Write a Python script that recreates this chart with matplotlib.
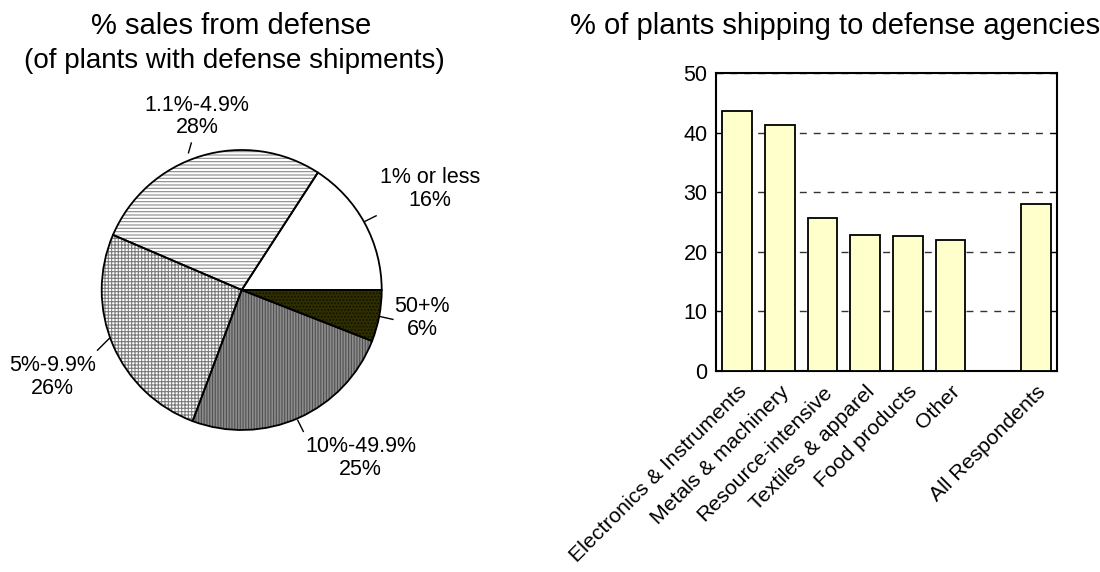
import matplotlib
matplotlib.use("Agg")
import matplotlib.pyplot as plt
import numpy as np

plt.rcParams['font.family'] = ['Liberation Sans', 'DejaVu Sans']
plt.rcParams['hatch.linewidth'] = 0.8

# pie data (counter-clockwise from 3 o'clock)
pie_labels = ['1% or less', '1.1%-4.9%', '5%-9.9%', '10%-49.9%', '50+%']
pie_values = [16, 28, 26, 25, 6]
pie_faces = ['white', 'white', 'white', '#8c8c8c', '#2e2e00']
pie_hatches = [None, '-----', '+++++', '||||||', '.....']
pie_hatch_colors = ['white', '#8a8a8a', '#7a7a7a', '#505050', '#111100']
# label centres and leader line ends (pie radius units)
label_pos = [(1.345, 0.72), (-0.32, 1.24), (-1.35, -0.62), (0.85, -1.20), (1.29, -0.20)]
leader = [((0.88, 0.49), (0.96, 0.53)), ((-0.38, 0.98), (-0.36, 1.05)),
          ((-0.94, -0.34), (-1.03, -0.43)), ((0.40, -0.93), (0.44, -1.01)),
          ((0.99, -0.19), (1.08, -0.21))]

# bar data
categories = ['Electronics & Instruments', 'Metals & machinery', 'Resource-intensive',
              'Textiles & apparel', 'Food products', 'Other', '', 'All Respondents']
bar_values = [43.7, 41.3, 25.6, 22.8, 22.6, 21.9, 0, 28.0]

fig = plt.figure(figsize=(11, 5.72), dpi=100)

# ---- pie ----
axp = fig.add_axes([101.7 / 1100, 142 / 572, 280 / 1100, 280 / 572])
total = sum(pie_values)
fracs = [v / total for v in pie_values]
wedges, _ = axp.pie(fracs, startangle=0, counterclock=True, radius=1,
                    colors=pie_faces, wedgeprops=dict(linewidth=0))
for w, h, hc in zip(wedges, pie_hatches, pie_hatch_colors):
    if h:
        w.set_hatch(h)
        w.set_edgecolor(hc)
        w.set_linewidth(0)
# outlines on top
axp.pie(fracs, startangle=0, counterclock=True, radius=1,
        wedgeprops=dict(facecolor='none', edgecolor='black', linewidth=1.3))
axp.set_xlim(-1, 1)
axp.set_ylim(-1, 1)
axp.set_aspect('equal')
axp.axis('off')

for lab, v, (tx, ty), (p0, p1) in zip(pie_labels, pie_values, label_pos, leader):
    axp.text(tx, ty, f"{lab}\n{v}%", ha='center', va='center', fontsize=15.5,
             linespacing=1.1, clip_on=False)
    axp.plot([p0[0], p1[0]], [p0[1], p1[1]], color='black', lw=1, clip_on=False)

fig.text(231.5 / 1100, 1 - 26 / 572, '% sales from defense', ha='center', va='center', fontsize=21)
fig.text(234 / 1100, 1 - 61 / 572, '(of plants with defense shipments)', ha='center', va='center', fontsize=20)

# ---- bars ----
axb = fig.add_axes([716 / 1100, 201 / 572, 341 / 1100, 298 / 572])
x = np.arange(len(categories))
axb.bar(x, bar_values, width=0.7, color='#ffffcc', edgecolor='black', linewidth=1.3, zorder=3)
axb.set_xlim(-0.5, len(categories) - 0.5)
axb.set_ylim(0, 50)
axb.set_yticks([0, 10, 20, 30, 40, 50])
axb.yaxis.grid(True, linestyle=(0, (5, 5)), color='#333333', linewidth=1, zorder=0)
axb.tick_params(axis='y', direction='in', left=True, right=True, length=5, labelsize=15.5, pad=6)
axb.tick_params(axis='x', length=0, labelsize=15.3, pad=8)
axb.set_xticks(x)
axb.set_xticklabels(categories, rotation=45, ha='right', rotation_mode='anchor')
for s in axb.spines.values():
    s.set_linewidth(1.5)
fig.text(835 / 1100, 1 - 26 / 572, '% of plants shipping to defense agencies',
         ha='center', va='center', fontsize=21)

fig.savefig('out.png', dpi=100)
